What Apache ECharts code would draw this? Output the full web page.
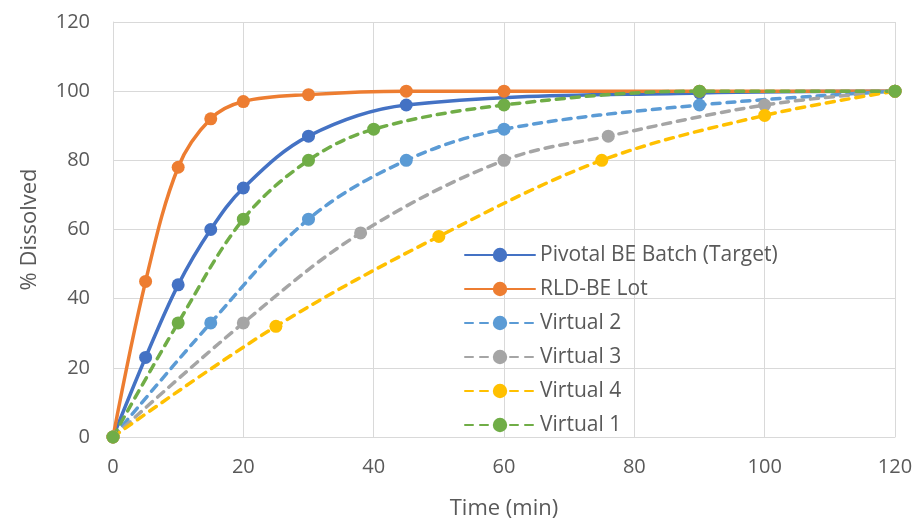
<!DOCTYPE html>
<html><head><meta charset="utf-8">
<script src="https://cdn.jsdelivr.net/npm/echarts@6/dist/echarts.min.js"></script>
<style>html,body{margin:0;padding:0;background:#fff}#c{width:917px;height:520px}</style>
</head><body><div id="c"></div>
<script>
const xTicks = [0,20,40,60,80,100,120];
const yTicks = [0,20,40,60,80,100,120];
const seriesNames = ["Pivotal BE Batch (Target)","RLD-BE Lot","Virtual 2","Virtual 3","Virtual 4","Virtual 1"];
const pivotalX = [0,5,10,15,20,30,45,90,120];
const pivotalY = [0,23,44,60,72,87,96,99.5,100];
const rldX = [0,5,10,15,20,30,45,60,90,120];
const rldY = [0,45,78,92,97,99,100,100,100,100];
const v2X = [0,15,30,45,60,90,120];
const v2Y = [0,33,63,80,89,96,100];
const v3X = [0,20,38,60,76,100,120];
const v3Y = [0,33,59,80,87,96,100];
const v4X = [0,25,50,75,100,120];
const v4Y = [0,32,58,80,93,100];
const v1X = [0,10,20,30,40,60,90,120];
const v1Y = [0,33,63,80,89,96,100,100];

const xs = [pivotalX, rldX, v2X, v3X, v4X, v1X];
const ys = [pivotalY, rldY, v2Y, v3Y, v4Y, v1Y];
const colors = ["#4472C4","#ED7D31","#5B9BD5","#A5A5A5","#FFC000","#70AD47"];
const dashed = [false,false,true,true,true,true];
const FONT = "Open Sans";

const series = seriesNames.map((n,i)=>({
  name:n, type:'line', smooth:0.35,
  data: xs[i].map((x,j)=>[x, ys[i][j]]),
  symbol:'circle', symbolSize:13,
  itemStyle:{color:colors[i]},
  lineStyle:{color:colors[i], width:3.5, type: dashed[i]?[8,7]:'solid', cap:'round'},
  emphasis:{disabled:true}, animation:false
}));

const chart = echarts.init(document.getElementById('c'));
chart.setOption({
  animation:false,
  grid:{left:113, right:22, top:22, bottom:83, containLabel:false, outerBoundsMode:'none'},
  legend:{
    orient:'vertical', left:459, top:239,
    itemWidth:70, itemHeight:18, itemGap:12,
    textStyle:{fontFamily:FONT, fontSize:21, color:'#595959', lineHeight:22, padding:[0,0,0,0]},
    data:seriesNames
  },
  xAxis:{
    type:'value', min:0, max:120, interval:20,
    name:'Time (min)', nameLocation:'middle', nameGap:61,
    nameTextStyle:{fontFamily:FONT, fontSize:22, color:'#595959'},
    axisLine:{show:true, lineStyle:{color:'#D9D9D9', width:1}},
    axisTick:{show:false},
    axisLabel:{fontFamily:FONT, fontSize:20, color:'#595959', margin:20},
    splitLine:{show:true, lineStyle:{color:'#D9D9D9', width:1}}
  },
  yAxis:{
    type:'value', min:0, max:120, interval:20,
    name:'% Dissolved', nameLocation:'middle', nameGap:72, nameRotate:90,
    nameTextStyle:{fontFamily:FONT, fontSize:22, color:'#595959'},
    axisLine:{show:true, lineStyle:{color:'#D9D9D9', width:1}},
    axisTick:{show:false},
    axisLabel:{fontFamily:FONT, fontSize:20, color:'#595959', margin:23},
    splitLine:{show:true, lineStyle:{color:'#D9D9D9', width:1}}
  },
  series: series
});
</script></body></html>
